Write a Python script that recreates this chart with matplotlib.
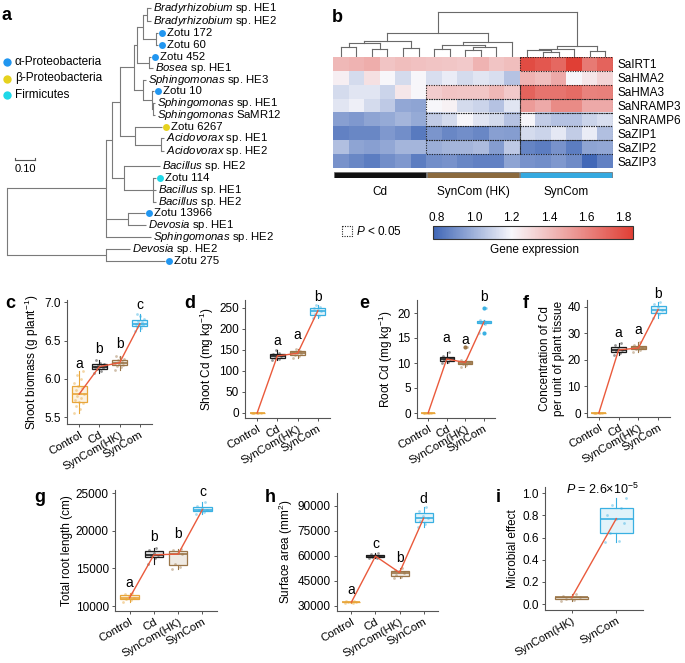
import numpy as np
import matplotlib.pyplot as plt
from matplotlib.colors import LinearSegmentedColormap, Normalize, to_rgba
from matplotlib.cm import ScalarMappable
from matplotlib.patches import Rectangle

plt.rcParams['font.family'] = ['Liberation Sans', 'DejaVu Sans']
plt.rcParams['mathtext.fontset'] = 'custom'
plt.rcParams['mathtext.rm'] = 'Liberation Sans'
plt.rcParams['mathtext.it'] = 'Liberation Sans:italic'
plt.rcParams['font.size'] = 8.5

W, H = 685, 663

# ---------------- data: panel a (tree) ----------------
leaf_ids = ['brady1', 'brady2', 'z172', 'z60', 'z452', 'bosea', 'sph3', 'z10', 'sph1', 'samr12',
            'z6267', 'acido1', 'acido2', 'bac2a', 'z114', 'bac1', 'bac2b', 'z13966', 'dev1',
            'sph2', 'dev2', 'z275']
leaf_labels = [r'$\mathit{Bradyrhizobium}$ sp. HE1', r'$\mathit{Bradyrhizobium}$ sp. HE2',
               'Zotu 172', 'Zotu 60', 'Zotu 452', r'$\mathit{Bosea}$ sp. HE1',
               r'$\mathit{Sphingomonas}$ sp. HE3', 'Zotu 10', r'$\mathit{Sphingomonas}$ sp. HE1',
               r'$\mathit{Sphingomonas}$ SaMR12', 'Zotu 6267', r'$\mathit{Acidovorax}$ sp. HE1',
               r'$\mathit{Acidovorax}$ sp. HE2', r'$\mathit{Bacillus}$ sp. HE2', 'Zotu 114',
               r'$\mathit{Bacillus}$ sp. HE1', r'$\mathit{Bacillus}$ sp. HE2', 'Zotu 13966',
               r'$\mathit{Devosia}$ sp. HE1', r'$\mathit{Sphingomonas}$ sp. HE2',
               r'$\mathit{Devosia}$ sp. HE2', 'Zotu 275']
leaf_y = [8, 21, 33, 45, 57, 68, 80, 91, 103, 115, 127, 138, 151, 166, 178, 190, 202, 213,
          225, 237, 249, 261]
leaf_tip = [151, 151, 158, 158, 151, 153, 146, 154, 155, 155, 162, 164, 164, 160, 156, 156,
            156, 145, 146, 151, 130, 165]
leaf_group = [None, None, 'alpha', 'alpha', 'alpha', None, None, 'alpha', None, None,
              'beta', None, None, None, 'firm', None, None, 'alpha', None, None, None, 'alpha']

tree_nodes = {
    'root': (7, ['main', 'low']),
    'main': (106, ['n1', 'dev', 'sph2']),
    'n1': (112, ['n2', 'bac']),
    'n2': (120, ['n3', 'acido']),
    'n3': (134, ['n3a', 'sph']),
    'n3a': (137, ['n4', 'n5']),
    'n4': (143, ['brady', 'z172n']),
    'brady': (147, ['brady1', 'brady2']),
    'z172n': (156, ['z172', 'z60']),
    'n5': (149, ['z452', 'bosea']),
    'sph': (143, ['sph3', 'sph10']),
    'sph10': (152, ['z10', 'sphsub']),
    'sphsub': (153, ['sph1', 'samr12']),
    'acido': (135, ['z6267', 'acidosub']),
    'acidosub': (161, ['acido1', 'acido2']),
    'bac': (124, ['bac2a', 'bacsub']),
    'bacsub': (153, ['z114', 'bac1', 'bac2b']),
    'dev': (128, ['z13966', 'dev1']),
    'low': (106, ['dev2', 'z275']),
}

group_names = ['alpha', 'beta', 'firm']
group_labels = ['α-Proteobacteria', 'β-Proteobacteria', 'Firmicutes']
group_colors = {'alpha': '#2196F0', 'beta': '#E6D21E', 'firm': '#1ED8E8'}

# ---------------- data: panel b (heatmap) ----------------
genes = ['SaIRT1', 'SaHMA2', 'SaHMA3', 'SaNRAMP3', 'SaNRAMP6', 'SaZIP1', 'SaZIP2', 'SaZIP3']
expr_irt1 = [1.42, 1.44, 1.46, 1.38, 1.40, 1.39, 1.38, 1.37, 1.36, 1.44, 1.38, 1.40,
             1.80, 1.76, 1.70, 1.85, 1.64, 1.72]
expr_hma2 = [1.23, 1.12, 1.28, 1.20, 1.12, 1.20, 1.13, 1.17, 1.12, 1.15, 1.13, 1.05,
             1.44, 1.40, 1.47, 1.20, 1.26, 1.32]
expr_hma3 = [1.12, 1.15, 1.15, 1.10, 1.26, 1.20, 1.35, 1.38, 1.37, 1.37, 1.42, 1.36,
             1.72, 1.66, 1.66, 1.69, 1.61, 1.62]
expr_nramp3 = [1.15, 1.18, 1.12, 1.07, 0.97, 0.96, 1.20, 1.22, 1.12, 1.10, 1.05, 1.15,
               1.52, 1.47, 1.58, 1.58, 1.47, 1.47]
expr_nramp6 = [0.95, 0.93, 0.96, 0.98, 1.01, 0.98, 1.08, 1.12, 1.20, 1.15, 1.12, 1.05,
               1.20, 1.08, 1.05, 1.05, 1.10, 1.13]
expr_zip1 = [0.86, 0.88, 0.88, 0.93, 0.90, 0.84, 0.92, 0.88, 0.90, 0.88, 0.95, 0.94,
             1.12, 1.10, 1.16, 1.08, 1.17, 1.04]
expr_zip2 = [1.04, 0.96, 0.95, 0.97, 1.01, 1.01, 0.99, 1.01, 1.01, 1.03, 0.94, 1.07,
             0.87, 0.85, 0.91, 0.85, 0.96, 0.97]
expr_zip3 = [0.91, 0.88, 0.85, 0.90, 0.93, 0.85, 0.90, 0.91, 0.88, 0.86, 0.86, 0.96,
             0.91, 0.90, 0.93, 0.89, 0.79, 0.86]
treatments = ['Cd', 'SynCom (HK)', 'SynCom']
treat_bar_colors = ['#111111', '#8B6A3E', '#35A9E0']
# (gene row, treatment group) with P < 0.05
sig_cells = [(0, 2), (2, 1), (2, 2), (3, 1), (3, 2), (4, 1), (4, 2), (5, 1), (5, 2), (6, 1), (6, 2)]
# column dendrogram: node -> (height, children); ints are columns
col_nodes = {
    'top': (30, ['cdhk', 'syn']),
    'cdhk': (16, ['cd', 'hk']),
    'cd': (10.5, ['cd0123', 'cd45']),
    'cd0123': (9, ['cd01', 'cd23']),
    'cd01': (6.5, [0, 1]),
    'cd23': (5, [2, 3]),
    'cd45': (6, [4, 5]),
    'hk': (10, ['hk1', 11]),
    'hk1': (8, ['hk67', 'hk810']),
    'hk67': (5.5, [6, 7]),
    'hk810': (6.5, ['hk89', 10]),
    'hk89': (4.5, [8, 9]),
    'syn': (7, ['s1', 's67']),
    's1': (5.5, ['s2', 15]),
    's2': (4.5, [12, 's34']),
    's34': (3.5, [13, 14]),
    's67': (4, [16, 17]),
}
cbar_ticks = [0.8, 1.0, 1.2, 1.4, 1.6, 1.8]

# ---------------- data: panels c-i ----------------
cats4 = ['Control', 'Cd', 'SynCom(HK)', 'SynCom']
cat_colors = {'Control': '#E8A63A', 'Cd': '#1A1A1A', 'SynCom(HK)': '#9A7548', 'SynCom': '#3AB0E2'}

biomass = [[5.55, 5.60, 5.65, 5.68, 5.70, 5.72, 5.75, 5.78, 5.80, 5.82, 5.85, 5.88, 5.90, 5.95, 6.00, 6.05, 6.10],
           [6.08, 6.10, 6.13, 6.14, 6.15, 6.16, 6.17, 6.18, 6.20, 6.21, 6.25],
           [6.12, 6.15, 6.17, 6.18, 6.20, 6.21, 6.22, 6.24, 6.26, 6.28, 6.30],
           [6.62, 6.66, 6.68, 6.70, 6.71, 6.72, 6.74, 6.76, 6.78, 6.82, 6.85]]
biomass_letters = ['a', 'b', 'b', 'c']
biomass_letter_y = [6.20, 6.39, 6.45, 6.96]

shoot_cd = [[0, 0, 0, 0, 0, 0],
            [125, 128, 132, 135, 137, 140, 142, 150],
            [132, 135, 138, 141, 143, 146, 148, 152],
            [225, 230, 235, 242, 245, 250, 253, 258]]
shoot_cd_letters = ['', 'a', 'a', 'b']
shoot_cd_letter_y = [0, 171, 186, 276]

root_cd = [[0, 0, 0, 0, 0, 0],
           [10.0, 10.3, 10.6, 10.8, 11.0, 11.5, 12.3],
           [9.3, 9.6, 9.9, 10.1, 10.3, 10.6, 13.3],
           [16.0, 17.9, 18.0, 18.2, 18.3, 18.6, 21.0]]
root_cd_letters = ['', 'a', 'a', 'b']
root_cd_letter_y = [0, 15.0, 14.6, 23.2]

conc_cd = [[0, 0, 0, 0, 0, 0],
           [22.0, 22.8, 23.3, 23.8, 24.3, 25.5, 26.5],
           [23.0, 23.8, 24.2, 24.5, 25.0, 25.5, 26.8],
           [36.0, 37.5, 38.2, 39.0, 40.0, 41.0, 42.0]]
conc_cd_letters = ['', 'a', 'a', 'b']
conc_cd_letter_y = [0, 30.2, 31.3, 44.8]

root_len = [[10500, 10800, 11000, 11100, 11300, 11600, 11800],
            [15600, 16400, 16600, 16800, 17000, 17500, 17700],
            [14900, 15200, 15600, 16900, 17100, 17400, 17600],
            [22200, 22500, 22700, 22800, 23000, 23300, 23800]]
root_len_letters = ['a', 'b', 'b', 'c']
root_len_letter_y = [13100, 19100, 19500, 25100]

surface = [[31700, 32000, 32200, 32300, 32500, 32800, 33000],
           [58500, 59000, 59500, 59800, 60300, 61000, 61500],
           [46500, 47500, 48500, 50000, 50800, 51500, 52500],
           [77000, 79000, 81000, 82500, 84000, 87000, 89000]]
surface_letters = ['a', 'c', 'b', 'd']
surface_letter_y = [39400, 67000, 58800, 94000]

cats2 = ['SynCom(HK)', 'SynCom']
microbial = [[0.03, 0.04, 0.05, 0.06, 0.065, 0.07, 0.09],
             [0.56, 0.57, 0.64, 0.73, 0.77, 0.80, 0.87, 0.89, 0.96]]

# ---------------- figure ----------------
fig = plt.figure(figsize=(6.85, 6.63), dpi=100)
ov = fig.add_axes([0, 0, 1, 1])
ov.set_xlim(0, W)
ov.set_ylim(H, 0)
ov.axis('off')


def px_axes(l, t, r, b):
    return fig.add_axes([l / W, 1 - b / H, (r - l) / W, (b - t) / H])


# ---- panel a: tree ----
tree_col = '#7a7a7a'
tree_fs = 8.2
leaf_index = {n: i for i, n in enumerate(leaf_ids)}


def draw_node(name):
    if name in leaf_index:
        i = leaf_index[name]
        return leaf_tip[i], leaf_y[i]
    x, kids = tree_nodes[name]
    pts = [draw_node(k) for k in kids]
    ys = [p[1] for p in pts]
    for kx, ky in pts:
        ov.plot([x, kx], [ky, ky], color=tree_col, lw=0.8, solid_capstyle='butt')
    ov.plot([x, x], [min(ys), max(ys)], color=tree_col, lw=0.8)
    return x, (min(ys) + max(ys)) / 2


draw_node('root')
for lab, x, y, grp in zip(leaf_labels, leaf_tip, leaf_y, leaf_group):
    if grp:
        ov.plot(x + 4.5, y, 'o', ms=5, color=group_colors[grp], mec='none')
        ov.text(x + 9.5, y, lab, va='center', ha='left', fontsize=tree_fs)
    else:
        ov.text(x + 2, y, lab, va='center', ha='left', fontsize=tree_fs)

for k, (g, lab) in enumerate(zip(group_names, group_labels)):
    ov.plot(7, 62 + 16.5 * k, 'o', ms=6, color=group_colors[g], mec='none')
    ov.text(15, 62 + 16.5 * k, lab, va='center', fontsize=8.5)

ov.plot([15, 35], [160, 160], color='#555', lw=0.8)
ov.plot([15, 15], [157.5, 160], color='#555', lw=0.8)
ov.plot([35, 35], [157.5, 160], color='#555', lw=0.8)
ov.text(25, 169, '0.10', ha='center', va='center', fontsize=8)

# ---- panel b: heatmap ----
expr = np.array([expr_irt1, expr_hma2, expr_hma3, expr_nramp3,
                 expr_nramp6, expr_zip1, expr_zip2, expr_zip3])
vmin, vmax = 0.78, 1.85
wpos = (1.2 - vmin) / (vmax - vmin)
cmap = LinearSegmentedColormap.from_list(
    'ge', [(0, '#3F66B6'), (wpos, '#F8F7FB'), (1, '#E03F35')])
norm = Normalize(vmin, vmax)

hax = px_axes(333, 57, 613, 168)
hax.imshow(expr, cmap=cmap, norm=norm, aspect='auto', interpolation='nearest')
hax.set_xticks([])
hax.set_yticks(range(len(genes)))
hax.set_yticklabels(genes, fontsize=8.5)
hax.yaxis.tick_right()
hax.tick_params(length=0, pad=3)
for s in hax.spines.values():
    s.set_visible(False)
for r, g in sig_cells:
    hax.add_patch(Rectangle((g * 6 - 0.5, r - 0.5), 6, 1, fill=False, ec='#222',
                            lw=0.8, ls=(0, (1, 1.2))))

dax = px_axes(333, 10, 613, 57)
dax.set_xlim(-0.5, 17.5)
dax.set_ylim(0, 31.3)
dax.axis('off')


def draw_col(name):
    if isinstance(name, int):
        return float(name), 0.0
    h, kids = col_nodes[name]
    pts = [draw_col(k) for k in kids]
    xs = [p[0] for p in pts]
    for kx, kh in pts:
        dax.plot([kx, kx], [kh, h], color='#6a6a6a', lw=0.8)
    dax.plot([min(xs), max(xs)], [h, h], color='#6a6a6a', lw=0.8)
    return (min(xs) + max(xs)) / 2, h


draw_col('top')

bax = px_axes(333, 172, 613, 178)
bax.set_xlim(-0.5, 17.5)
bax.set_ylim(-0.5, 0.5)
bax.axis('off')
for k, (t, c) in enumerate(zip(treatments, treat_bar_colors)):
    bax.barh(0, 5.9, left=k * 6 - 0.45, height=1, color=c, edgecolor='#666', lw=0.5)
    bax.text(k * 6 + 2.5, -2.9, t, ha='center', va='center', fontsize=8.5)

cax = px_axes(433, 226, 633, 239)
cb = fig.colorbar(ScalarMappable(norm=norm, cmap=cmap), cax=cax, orientation='horizontal',
                  ticks=cbar_ticks)
cax.xaxis.set_ticks_position('top')
cax.set_xticklabels(['%.1f' % t for t in cbar_ticks], fontsize=8.5)
cax.tick_params(length=0, pad=1.5)
cb.outline.set_linewidth(0.8)
cb.outline.set_edgecolor('#333')
ov.text(535, 250, 'Gene expression', ha='center', va='center', fontsize=8.5)
ov.add_patch(Rectangle((342, 226), 10, 10, fill=False, ec='#222', lw=0.8, ls=(0, (1, 1.2))))
ov.text(356, 231.5, r'$\mathit{P}$ < 0.05', va='center', fontsize=8.5)


# ---- panels c-i: box plots ----
def jitter(n):
    return (((np.arange(n) * 0.618) % 1.0) - 0.5) * 0.5


def box_panel(box, vals, cats, letters, letter_y, ylim, yticks, ylabel, fmt='%d'):
    ax = px_axes(*box)
    pos = np.arange(len(vals))
    cols = [cat_colors[c] for c in cats]
    for p, v, c in zip(pos, vals, cols):
        v = np.asarray(v, float)
        ax.scatter(p + jitter(len(v)), v, s=4, color=c, alpha=0.45, lw=0, zorder=3)
    bp = ax.boxplot(vals, positions=pos, widths=0.75, patch_artist=True, showcaps=False,
                    flierprops=dict(marker='o', markersize=3, markeredgecolor='none'))
    for i, c in enumerate(cols):
        bp['boxes'][i].set_facecolor(to_rgba(c, 0.15))
        bp['boxes'][i].set_edgecolor(c)
        bp['boxes'][i].set_linewidth(0.9)
        bp['medians'][i].set_color(c)
        bp['medians'][i].set_linewidth(1.2)
        bp['fliers'][i].set_markerfacecolor(c)
        for w in bp['whiskers'][2 * i:2 * i + 2]:
            w.set_color(c)
            w.set_linewidth(0.8)
    ax.plot(pos, [np.median(v) for v in vals], color='#EA5A3C', lw=1, zorder=6)
    for p, lt, ly in zip(pos, letters, letter_y):
        if lt:
            ax.text(p, ly, lt, ha='center', va='center', fontsize=10, clip_on=False)
    ax.set_xlim(-0.6, len(vals) - 0.4)
    ax.set_ylim(*ylim)
    ax.set_yticks(yticks)
    ax.set_yticklabels([fmt % t for t in yticks], fontsize=8.5)
    ax.set_xticks(pos)
    ax.set_xticklabels(cats, rotation=30, ha='right', rotation_mode='anchor', fontsize=8.2)
    for s in ['top', 'right']:
        ax.spines[s].set_visible(False)
    for s in ['left', 'bottom']:
        ax.spines[s].set_color('#555')
        ax.spines[s].set_linewidth(0.8)
    ax.tick_params(length=2.5, width=0.7, color='#555', pad=2)
    ax.tick_params(axis='x', pad=1.5)
    ax.set_ylabel(ylabel, fontsize=8.5, labelpad=2)
    ax.set_facecolor('none')
    return ax


box_panel((67, 300, 152, 424), biomass, cats4, biomass_letters, biomass_letter_y,
          (5.41, 7.03), [5.5, 6.0, 6.5, 7.0], r'Shoot biomass (g plant$^{-1}$)', '%.1f')
box_panel((245, 300, 330, 418), shoot_cd, cats4, shoot_cd_letters, shoot_cd_letter_y,
          (-12, 269), [0, 50, 100, 150, 200, 250], r'Shoot Cd (mg kg$^{-1}$)')
box_panel((417, 300, 495, 418), root_cd, cats4, root_cd_letters, root_cd_letter_y,
          (-1, 22.6), [0, 5, 10, 15, 20], r'Root Cd (mg kg$^{-1}$)')
box_panel((587, 300, 670, 417), conc_cd, cats4, conc_cd_letters, conc_cd_letter_y,
          (-1.5, 42.6), [0, 10, 20, 30, 40], 'Concentration of Cd\nper unit of plant tissue')
box_panel((115, 490, 217, 611), root_len, cats4, root_len_letters, root_len_letter_y,
          (9350, 25400), [10000, 15000, 20000, 25000], 'Total root length (cm)')
box_panel((337, 493, 438, 611), surface, cats4, surface_letters, surface_letter_y,
          (27000, 97600), [30000, 45000, 60000, 75000, 90000], r'Surface area (mm$^{2}$)')
iax = box_panel((545, 487, 643, 610), microbial, cats2, ['', ''], [0, 0],
                (-0.053, 1.055), [0.0, 0.2, 0.4, 0.6, 0.8, 1.0], 'Microbial effect', '%.1f')
iax.text(0.68, 1.03, r'$\mathit{P}$ = 2.6×10$^{-5}$', ha='center', va='center',
         fontsize=9, clip_on=False)

# panel letters
panel_letters = ['a', 'b', 'c', 'd', 'e', 'f', 'g', 'h', 'i']
panel_xy = [(7, 15), (337, 18), (10, 304), (190, 304), (364, 304), (526, 304),
            (40, 498), (270, 498), (498, 498)]
for lt, (x, y) in zip(panel_letters, panel_xy):
    ov.text(x, y, lt, ha='center', va='center', fontsize=13, fontweight='bold')

fig.savefig('out.png', dpi=100)
